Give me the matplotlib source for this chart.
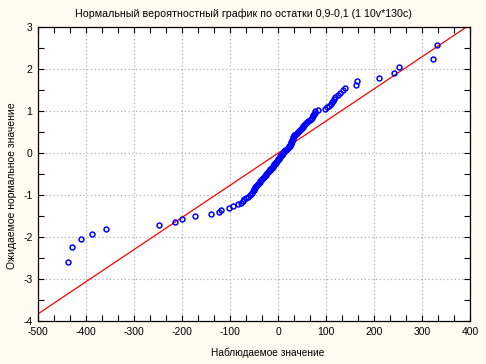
import numpy as np
import matplotlib
matplotlib.use("Agg")
import matplotlib.pyplot as plt
from matplotlib.ticker import MultipleLocator
from statistics import NormalDist

observed = [-437, -429, -410, -387, -358, -247, -215, -200, -172, -140,
            -124, -119, -102, -94, -83, -77, -74, -70, -66, -63,
            -59, -56, -55, -53, -51, -50, -49, -47, -46, -44,
            -42, -40, -38, -37, -35, -33, -31, -30, -28, -26,
            -25, -23, -21, -19, -17, -16, -14, -13, -11, -10,
            -9, -8, -6, -5, -4, -2, -1, 0, 1, 3,
            4, 5, 7, 8, 9, 10, 12, 13, 15, 17,
            19, 21, 22, 23, 24, 25, 26, 27, 28, 28.5,
            29, 30, 30.5, 31, 32, 33, 34, 36, 38, 40,
            42, 44, 46, 47, 49, 51, 53, 55, 56, 58,
            60, 63, 66, 69, 71, 72, 73, 74, 76, 77,
            84, 97, 101, 106, 110, 113, 115, 116, 119, 125,
            129, 135, 140, 162, 164, 211, 242, 253, 323, 332]

# reference line: y = (x - line_mean) / line_sd
line_mean = -0.5
line_sd = 130.5

xticks = [-500, -400, -300, -200, -100, 0, 100, 200, 300, 400]
yticks = [-4, -3, -2, -1, 0, 1, 2, 3]

# expected normal values (Blom)
n = len(observed)
nd = NormalDist()
expected = [nd.inv_cdf((i - 0.375) / (n + 0.25)) for i in range(1, n + 1)]

plt.rcParams["font.family"] = ["Liberation Sans", "DejaVu Sans"]
plt.rcParams["axes.unicode_minus"] = False

fig = plt.figure(figsize=(4.86, 3.64), dpi=100)
fig.patch.set_facecolor("#fffbf0")
ax = fig.add_axes([0.0782, 0.118, 0.889, 0.8065])
ax.set_facecolor("white")

ax.grid(True, which="major", color="#b0b0b0", linestyle=(0, (1, 2)), linewidth=0.9)
ax.set_axisbelow(True)

lx = np.array([-500, 400])
ax.plot(lx, (lx - line_mean) / line_sd, color="red", lw=0.9, zorder=2)
ax.plot(observed, expected, linestyle="none", marker="o", markersize=3.5,
        markerfacecolor="none", markeredgecolor="#0000ff", markeredgewidth=1.1, zorder=3)

ax.set_xlim(-500, 400)
ax.set_ylim(-4, 3)
ax.set_xticks(xticks)
ax.set_yticks(yticks)
ax.xaxis.set_minor_locator(MultipleLocator(100 / 3))
ax.yaxis.set_minor_locator(MultipleLocator(0.5))
ax.tick_params(which="both", direction="in", top=True, right=True,
               labelsize=7.5, color="black")
ax.tick_params(which="major", length=4, width=0.8, pad=4)
ax.tick_params(which="minor", length=4, width=0.8)
for s in ax.spines.values():
    s.set_linewidth(0.9)

fig.text(0.5, 0.962, "Нормальный вероятностный график по остатки 0,9-0,1 (1 10v*130c)",
         ha="center", va="center", fontsize=7.7)
fig.text(0.55, 0.032, "Наблюдаемое значение", ha="center", va="center", fontsize=7.3)
fig.text(0.025, 0.49, "Ожидаемое нормальное значение", ha="center", va="center",
         rotation=90, fontsize=7.5)

fig.savefig("out.png", dpi=100, facecolor=fig.get_facecolor())
